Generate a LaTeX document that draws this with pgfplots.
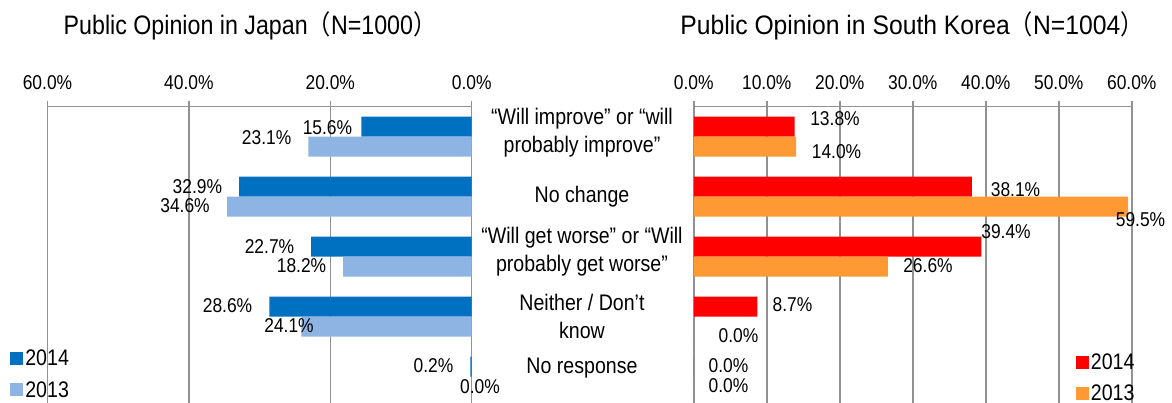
\documentclass[border=0pt]{standalone}
\usepackage{fontspec}
\setmainfont{Liberation Sans}[FakeStretch=0.87]
\newfontfamily\krtit{Liberation Sans}[FakeStretch=0.925]
\newfontfamily\cjk{Noto Sans CJK JP}[FakeStretch=0.87]
\usepackage{pgfplots}
\pgfplotsset{compat=1.18}
\definecolor{jpA}{RGB}{0,112,192}
\definecolor{jpB}{RGB}{142,180,227}
\definecolor{krA}{RGB}{255,0,0}
\definecolor{krB}{RGB}{255,153,51}
\definecolor{gridc}{RGB}{145,145,145}
\newcommand{\tickfont}{\fontsize{20bp}{24bp}\selectfont}
\newcommand{\catfont}{\fontsize{22.5bp}{28bp}\selectfont}
\newcommand{\legfont}{\fontsize{22.5bp}{27bp}\selectfont}
\newcommand{\titfont}{\fontsize{26.7bp}{30bp}\selectfont}
\tikzset{
  vlab/.style={font=\tickfont, anchor=center, inner sep=0pt},
  clab/.style={font=\catfont, align=center, inner sep=0pt},
}
\pgfplotsset{
  panel/.style={
    scale only axis, height=300bp,
    ymin=-0.5, ymax=4.5, xmin=0, xmax=60,
    xbar, bar width=0.3333,
    axis x line*=top, axis y line=none,
    ytick=\empty,
    xmajorgrids, grid style={gridc, line width=1.5bp},
    axis line style={gridc, line width=1.5bp},
    tick style={gridc, line width=1.5bp},
    major tick length=6bp, tick align=outside,
    xticklabel style={font=\tickfont, text=black, yshift=7bp},
    clip=false,
    legend style={draw=none, fill=none, font=\legfont, inner sep=0pt,
      row sep=10bp, anchor=north west,
      nodes={inner sep=2bp}},
    legend cell align=left,
    legend image code/.code={\fill[##1] (0bp,-6.5bp) rectangle (13bp,6.5bp);},
    every axis plot/.append style={draw=none},
  }
}
\begin{document}
\begin{tikzpicture}
\useasboundingbox (0,0) rectangle (1172bp,403bp);
% ---------------- Japan ----------------
\begin{axis}[panel,
  at={(47.5bp,296.3bp)}, anchor=north west, width=424.2bp,
  x dir=reverse,
  xtick={0,20,40,60},
  xticklabels={0.0\%,20.0\%,40.0\%,60.0\%},
  legend style={at={(axis description cs:-0.088,0.196)}},
]
\addplot[fill=jpA, bar shift=0.1667] coordinates {(15.6,4) (32.9,3) (22.7,2) (28.6,1) (0.2,0)};
\addplot[fill=jpB, bar shift=-0.1667] coordinates {(23.1,4) (34.6,3) (18.2,2) (24.1,1) (0.0,0)};
\legend{2014,2013}
\node[vlab] at (axis cs:20.4,4.153) {15.6\%};
\node[vlab] at (axis cs:29.0,3.987) {23.1\%};
\node[vlab] at (axis cs:38.8,3.162) {32.9\%};
\node[vlab] at (axis cs:40.55,2.845) {34.6\%};
\node[vlab] at (axis cs:28.6,2.162) {22.7\%};
\node[vlab] at (axis cs:24.07,1.845) {18.2\%};
\node[vlab] at (axis cs:34.54,1.178) {28.6\%};
\node[vlab] at (axis cs:25.84,0.845) {24.1\%};
\node[vlab] at (axis cs:5.40,0.178) {0.2\%};
\node[vlab] at (axis cs:-1.17,-0.172) {0.0\%};
% category labels
\node[clab] at (axis cs:-15.6,4.062) {“Will improve” or “will\\probably improve”};
\node[clab] at (axis cs:-15.6,2.995) {No change};
\node[clab] at (axis cs:-15.6,2.087) {“Will get worse” or “Will\\probably get worse”};
\node[clab] at (axis cs:-15.6,1.003) {Neither / Don’t\\know};
\node[clab] at (axis cs:-15.6,0.145) {No response};
\end{axis}
% ---------------- Korea ----------------
\begin{axis}[panel,
  at={(693.8bp,296.3bp)}, anchor=north west, width=438bp,
  xtick={0,10,20,30,40,50,60},
  xticklabels={0.0\%,10.0\%,20.0\%,30.0\%,40.0\%,50.0\%,60.0\%},
  legend style={at={(axis description cs:0.872,0.184)}},
]
\addplot[fill=krA, bar shift=0.1667] coordinates {(13.8,4) (38.1,3) (39.4,2) (8.7,1) (0.0,0)};
\addplot[fill=krB, bar shift=-0.1667] coordinates {(14.0,4) (59.5,3) (26.6,2) (0.0,1) (0.0,0)};
\legend{2014,2013}
\node[vlab] at (axis cs:19.34,4.295) {13.8\%};
\node[vlab] at (axis cs:19.55,3.745) {14.0\%};
\node[vlab] at (axis cs:44.07,3.112) {38.1\%};
\node[vlab] at (axis cs:61.19,2.612) {59.5\%};
\node[vlab] at (axis cs:42.77,2.412) {39.4\%};
\node[vlab] at (axis cs:32.08,1.845) {26.6\%};
\node[vlab] at (axis cs:13.52,1.195) {8.7\%};
\node[vlab] at (axis cs:6.12,0.678) {0.0\%};
\node[vlab] at (axis cs:4.75,0.178) {0.0\%};
\node[vlab] at (axis cs:4.75,-0.155) {0.0\%};
\end{axis}
% titles
\node[font=\titfont, inner sep=0pt] at (250bp,377bp) {Public Opinion in Japan{\cjk （}N=1000{\cjk ）}};
\node[font=\titfont, inner sep=0pt] at (912bp,377bp) {\krtit Public Opinion in South Korea{\cjk （}N=1004{\cjk ）}};
\end{tikzpicture}
\end{document}
